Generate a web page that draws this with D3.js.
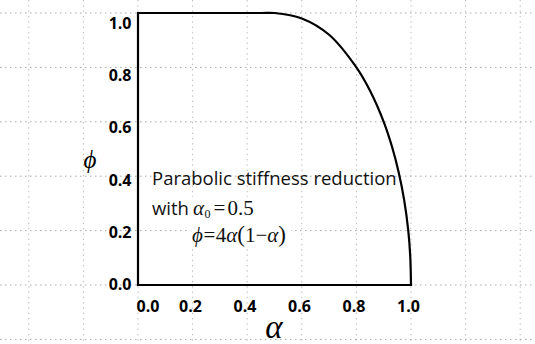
<!DOCTYPE html>
<html>
<head>
<meta charset="utf-8">
<script src="https://cdn.jsdelivr.net/npm/d3@7"></script>
<style>
  body { margin: 0; background: #fff; }
  svg { display: block; }
</style>
</head>
<body>
<div id="vis"></div>
<script>
// values
const alpha = [0, 0.45, 0.5, 0.6, 0.7, 0.8, 0.85, 0.9, 0.93, 0.955, 0.975, 0.99, 0.997, 1.0]
const phi   = [1, 1, 1, 0.98, 0.92, 0.80, 0.714, 0.60, 0.51, 0.414, 0.312, 0.2, 0.11, 0]
const xTicks = [0, 0.2, 0.4, 0.6, 0.8, 1.0]
const yTicks = [0, 0.2, 0.4, 0.6, 0.8, 1.0]
// sheet gridlines behind the chart, in data units
const gridX = [-0.4, -0.2, 0, 0.2, 0.4, 0.6, 0.8, 1.0, 1.2, 1.4]
const gridY = [-0.2, 0, 0.2, 0.4, 0.6, 0.8, 1.0]

const width = 535
const height = 344

const svg = d3.select("#vis")
  .append("svg")
  .attr("width", width)
  .attr("height", height)

const x = d3.scaleLinear().domain([0, 1]).range([138, 411])
const y = d3.scaleLinear().domain([0, 1]).range([285, 13])
// tick labels sit a little off the ticks, like the original
const xLab = d3.scaleLinear().domain([0, 1]).range([136, 408.5])
const yLab = d3.scaleLinear().domain([0, 1]).range([290, 29])

// background grid
svg.selectAll("vgrid")
  .data(gridX)
  .enter()
  .append("line")
    .attr("x1", d => x(d)).attr("x2", d => x(d))
    .attr("y1", 0).attr("y2", height)
    .attr("stroke", "#bdbdbd")
    .attr("stroke-width", 1)
    .style("stroke-dasharray", "1.5,3.8")
svg.selectAll("hgrid")
  .data(gridY)
  .enter()
  .append("line")
    .attr("x1", 0).attr("x2", width)
    .attr("y1", d => y(d)).attr("y2", d => y(d))
    .attr("stroke", "#a8a8a8")
    .attr("stroke-width", 1)
    .style("stroke-dasharray", "1.5,3.5")

// axis lines
svg.append("line")
  .attr("x1", x(0)).attr("x2", x(0))
  .attr("y1", y(1)).attr("y2", y(0))
  .attr("stroke", "#000").attr("stroke-width", 2.2)
  .attr("stroke-linecap", "square")
svg.append("line")
  .attr("x1", x(0)).attr("x2", x(1))
  .attr("y1", y(0)).attr("y2", y(0))
  .attr("stroke", "#000").attr("stroke-width", 2.2)
  .attr("stroke-linecap", "square")

// the curve
const pts = alpha.map((a, i) => [a, phi[i]])
const line = d3.line()
  .x(d => x(d[0]))
  .y(d => y(d[1]))
  .curve(d3.curveCatmullRom.alpha(0.5))
svg.append("path")
  .datum(pts)
  .attr("d", line)
  .attr("fill", "none")
  .attr("stroke", "#000")
  .attr("stroke-width", 2.2)

// tick labels
svg.selectAll("ylab")
  .data(yTicks)
  .enter()
  .append("text")
    .attr("x", 131.5)
    .attr("y", d => yLab(d))
    .attr("text-anchor", "end")
    .style("font-family", "'Open Sans', sans-serif")
    .style("font-weight", "bold")
    .style("font-size", "16px")
    .text(d => d.toFixed(1))
svg.selectAll("xlab")
  .data(xTicks)
  .enter()
  .append("text")
    .attr("x", d => d == 0 ? xLab(d) + 12 : xLab(d))
    .attr("y", 312)
    .attr("text-anchor", "middle")
    .style("font-family", "'Open Sans', sans-serif")
    .style("font-weight", "bold")
    .style("font-size", "16px")
    .text(d => d.toFixed(1))

// axis titles
svg.append("text")
  .attr("x", 90).attr("y", 168)
  .attr("text-anchor", "middle")
  .style("font-family", "'Liberation Serif', 'DejaVu Serif', serif")
  .style("font-style", "italic")
  .style("font-size", "25px")
  .text("\u03D5")
svg.append("text")
  .attr("x", 274).attr("y", 338)
  .attr("text-anchor", "middle")
  .style("font-family", "'Liberation Serif', serif")
  .style("font-style", "italic")
  .style("font-size", "33px")
  .text("\u03B1")

// annotation
const sans = "'Open Sans', sans-serif"
const serif = "'Liberation Serif', 'Times New Roman', serif"
svg.append("text")
  .attr("x", 152).attr("y", 184.5)
  .style("font-family", sans)
  .style("font-size", "18.5px")
  .attr("fill", "#111")
  .text("Parabolic stiffness reduction")
svg.append("text")
  .attr("x", 152).attr("y", 215)
  .style("font-family", sans)
  .style("font-size", "18.5px")
  .attr("fill", "#111")
  .text("with")

// equation images had a white background
svg.append("rect").attr("x", 191).attr("y", 197).attr("width", 62).attr("height", 24).attr("fill", "#fff")
svg.append("rect").attr("x", 190).attr("y", 222).attr("width", 101).attr("height", 27).attr("fill", "#fff")

const eq1 = svg.append("text")
  .attr("x", 193)
  .attr("y", 215)
  .style("font-family", serif)
  .style("font-size", "21px")
  .attr("fill", "#111")
eq1.append("tspan").style("font-style", "italic").text("\u03B1")
eq1.append("tspan").attr("dx", 0.5).attr("dy", 3).style("font-size", "12px").text("0")
eq1.append("tspan").attr("dx", 3).attr("dy", -3).text("=")
eq1.append("tspan").attr("dx", 2).text("0.5")

const eq2 = svg.append("text")
  .attr("x", 192)
  .attr("y", 242)
  .style("font-family", serif)
  .style("font-size", "21px")
  .attr("fill", "#111")
eq2.append("tspan").style("font-style", "italic").text("\u03D5")
eq2.append("tspan").attr("dx", 0.5).text("=")
eq2.append("tspan").attr("dx", 0.5).text("4")
eq2.append("tspan").style("font-style", "italic").text("\u03B1")
eq2.append("tspan").style("font-size", "23px").text("(")
eq2.append("tspan").text("1")
eq2.append("tspan").text("\u2212")
eq2.append("tspan").style("font-style", "italic").text("\u03B1")
eq2.append("tspan").style("font-size", "23px").text(")")
</script>
</body>
</html>
